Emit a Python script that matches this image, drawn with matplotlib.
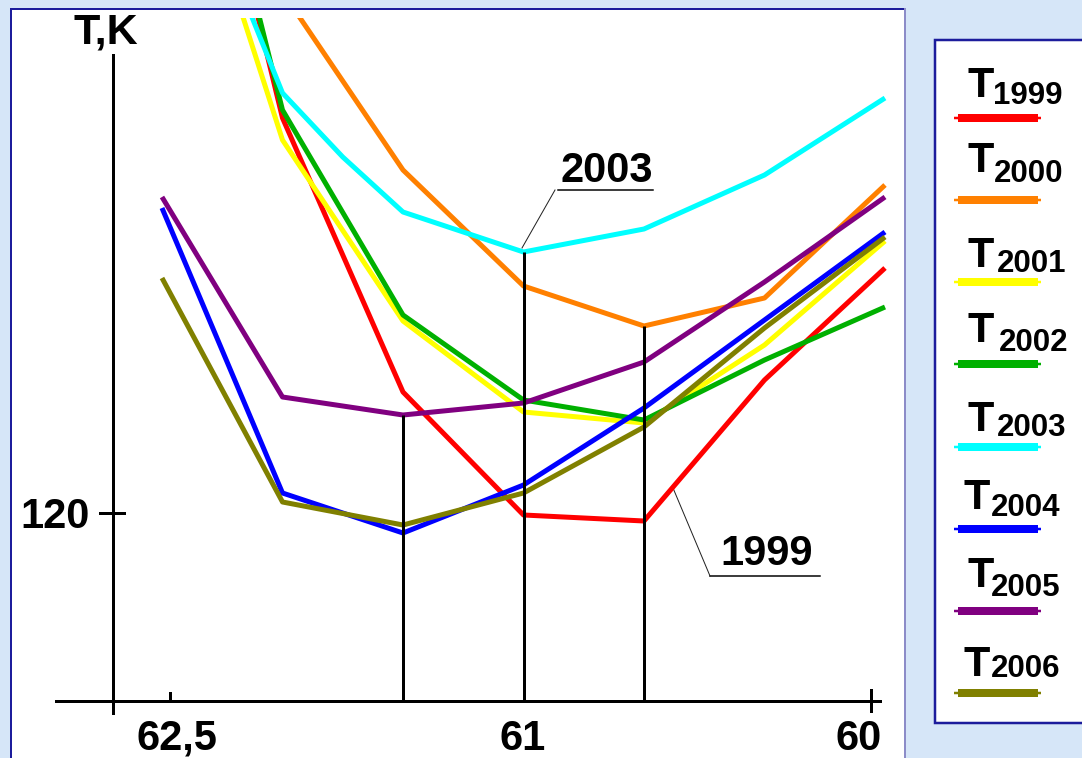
import matplotlib
matplotlib.use("Agg")
import matplotlib.pyplot as plt
import matplotlib.transforms as mtransforms
from matplotlib.patches import Rectangle

# ── data ───────────────────────────────────────────────────────
# x = station index along the section (62,5 on the left, 60 on the right)
STATIONS = [0, 1, 2, 3, 4, 5, 6]
STATIONS_2003 = [0, 1, 1.5, 2, 3, 4, 5, 6]

YEARS = ["1999", "2000", "2001", "2002", "2003", "2004", "2005", "2006"]
T1999 = [164.5, 139.75, 126.05, 119.9, 119.6, 126.65, 132.25]
T2000 = [155.65, 146.05, 137.15, 131.35, 129.35, 130.75, 136.4]
T2001 = [157.4, 138.65, 129.6, 125.05, 124.5, 128.4, 133.6]
T2002 = [164.3, 140.15, 129.9, 125.65, 124.65, 127.65, 130.3]
T2003 = [155.95, 141.0, 137.8, 135.05, 133.05, 134.2, 136.9, 140.75]
T2004 = [135.25, 121.0, 119.0, 121.4, 125.25, 129.65, 134.05]
T2005 = [135.8, 125.8, 124.9, 125.5, 127.55, 131.55, 135.8]
T2006 = [131.75, 120.55, 119.4, 121.0, 124.3, 129.25, 133.8]

X_TICKS = [0.07, 3.0, 5.88]
X_TICKLABELS = ["62,5", "61", "60"]
Y_TICK = 120
Y_TICKLABEL = "120"

COLORS = ["#ff0000", "#ff8000", "#ffff00", "#00b000",
          "#00ffff", "#0000ff", "#800080", "#808000"]

# ── layout (pixels of the 1082x758 picture) ───────────────────
W, H = 1082, 758
NAVY = "#1c1c9c"
FONT = "Liberation Sans"
PX = 72 / 100  # points per pixel at dpi 100

series = [(STATIONS, T1999), (STATIONS, T2000), (STATIONS, T2001),
          (STATIONS, T2002), (STATIONS_2003, T2003), (STATIONS, T2004),
          (STATIONS, T2005), (STATIONS, T2006)]

fig = plt.figure(figsize=(W / 100, H / 100), dpi=100)
fig.patch.set_facecolor("#d6e6f8")

# background panels in pixel coordinates
bg = fig.add_axes([0, 0, 1, 1])
bg.set_xlim(0, W); bg.set_ylim(H, 0); bg.axis("off"); bg.set_zorder(0)
bg.add_patch(Rectangle((11, 9), 894, 800, facecolor="white", edgecolor="none"))
bg.plot([11, 905], [9, 9], color=NAVY, lw=2 * PX)
bg.plot([11, 11], [9, H], color=NAVY, lw=2 * PX)
bg.plot([905, 905], [9, H], color="#8c8cc8", lw=2 * PX)
bg.add_patch(Rectangle((935, 40), 200, 683, facecolor="white",
                       edgecolor=NAVY, lw=2.5 * PX))

# legend entries (hand-placed, as in the original)
leg_t_dx = [967, 967, 967, 967, 968, 964, 968, 964]
leg_t_dy = [-21, -28, -15, -22, -16, -20, -24, -17]
leg_s_dx = [993, 994, 997, 999, 997, 991, 991, 991]
leg_s_dy = [-14, -18, -10, -13, -11, -13, -15, -16]
for i, (year, col) in enumerate(zip(YEARS, COLORS)):
    ly = 118 + 82.14 * i
    bg.plot([954, 1041], [ly, ly], color=col, lw=2.5 * PX, solid_capstyle="butt")
    bg.plot([958, 1038], [ly, ly], color=col, lw=8 * PX, solid_capstyle="butt")
    bg.text(leg_t_dx[i], ly + leg_t_dy[i], "T", fontsize=31, fontweight="bold",
            family=FONT, ha="left", va="baseline")
    bg.text(leg_s_dx[i], ly + leg_s_dy[i], year, fontsize=22.5, fontweight="bold",
            family=FONT, ha="left", va="baseline")

# axis title
bg.text(73, 43, "T,K", fontsize=31, fontweight="bold", family=FONT,
        ha="left", va="baseline")

# ── main chart ────────────────────────────────────────────────
left, right, top, bottom = 56, 890, 18, 701
ax = fig.add_axes([left / W, 1 - bottom / H, (right - left) / W, (bottom - top) / H])
ax.set_zorder(1)
ax.patch.set_alpha(0)

x_px0, x_step = 162, 120.5          # pixel of station 0, pixels per station
t_px0, t_step = 513, 20             # pixel of 120 K, pixels per K
ax.set_xlim((left - x_px0) / x_step, (right - x_px0) / x_step)
ax.set_ylim(120 - (bottom - t_px0) / t_step, 120 + (t_px0 - top) / t_step)

for (xs, ts), col in zip(series, COLORS):
    ax.plot(xs, ts, color=col, lw=5 * PX, solid_capstyle="butt")

# drop lines from the minima of 2005, 2003 and 2000
y_lo = ax.get_ylim()[0]
for xs, ts in [series[6], series[4], series[1]]:
    k = ts.index(min(ts))
    ax.vlines(xs[k], y_lo, min(ts), color="black", lw=3 * PX, zorder=5)

# axes lines
y_axis_x = (113 - x_px0) / x_step
for s in ["top", "right"]:
    ax.spines[s].set_visible(False)
ax.spines["left"].set_position(("data", y_axis_x))
ax.spines["left"].set_bounds(120 - (713 - t_px0) / t_step, 120 + (t_px0 - 55) / t_step)
ax.spines["bottom"].set_bounds(ax.get_xlim()[0], (880 - x_px0) / x_step)
for s in ["left", "bottom"]:
    ax.spines[s].set_linewidth(3 * PX)
    ax.spines[s].set_clip_on(False)
ax.set_xticks([]); ax.set_yticks([])

# x ticks and labels (tick spans in pixels, positive = below the axis)
blend = mtransforms.blended_transform_factory(ax.transData, ax.transAxes)
hpx = bottom - top
tick_spans = [(-8, 0), None, (-11, 10)]
label_dx = [7, -1, -12]
for xt, lab, span, dx in zip(X_TICKS, X_TICKLABELS, tick_spans, label_dx):
    if span:
        ax.plot([xt, xt], [-span[0] / hpx, -span[1] / hpx], color="black",
                lw=3 * PX, transform=blend, clip_on=False)
    tr = mtransforms.offset_copy(blend, fig=fig, x=dx, y=0, units="dots")
    ax.text(xt, -49 / hpx, lab, transform=tr, fontsize=30, fontweight="bold",
            family=FONT, ha="center", va="baseline")

# y tick and label
ax.plot([y_axis_x - 13 / x_step, y_axis_x + 11 / x_step], [Y_TICK, Y_TICK],
        color="black", lw=3 * PX, clip_on=False)
ax.text(y_axis_x - 23 / x_step, Y_TICK, Y_TICKLABEL, fontsize=30,
        fontweight="bold", family=FONT, ha="right", va="center_baseline")

# year call-outs
bg.text(560, 182, "2003", fontsize=30, fontweight="bold", family=FONT,
        ha="left", va="baseline")
bg.plot([558, 653], [190, 190], color="black", lw=1.5 * PX)
bg.plot([522, 555], [248, 190], color="#222222", lw=1 * PX)
bg.text(720, 565, "1999", fontsize=30, fontweight="bold", family=FONT,
        ha="left", va="baseline")
bg.plot([710, 820], [576, 576], color="black", lw=1.5 * PX)
bg.plot([673, 710], [488, 576], color="#222222", lw=1 * PX)

fig.savefig("out.png", dpi=100, facecolor=fig.get_facecolor())
